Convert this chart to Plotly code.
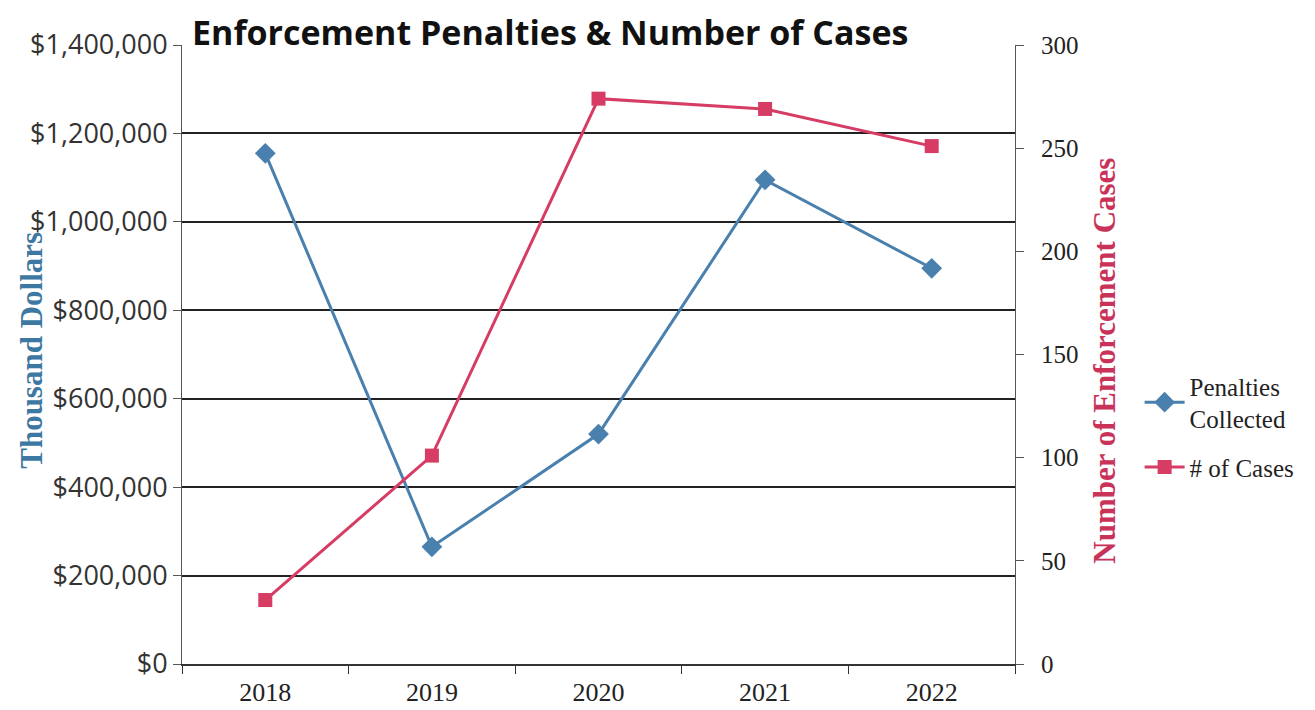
import plotly.graph_objects as go

years = ["2018", "2019", "2020", "2021", "2022"]
penalties = [1155000, 265000, 520000, 1095000, 895000]
cases = [31, 101, 274, 269, 251]

left_ticks = [0, 200000, 400000, 600000, 800000, 1000000, 1200000, 1400000]
left_labels = ["$" + format(v, ",") for v in left_ticks]
right_ticks = [0, 50, 100, 150, 200, 250, 300]

BLUE = "#4A80AE"
RED = "#D63C64"
SERIF = "Liberation Serif, Times New Roman, serif"
SANS = "Open Sans, Lato, sans-serif"

fig = go.Figure()
fig.add_trace(go.Scatter(
    x=years, y=penalties, name="Penalties<br>Collected", mode="lines+markers",
    line=dict(color=BLUE, width=3), legendgroup="pen",
    marker=dict(symbol="diamond", size=16, color=BLUE),
    yaxis="y"))
fig.add_trace(go.Scatter(
    x=years, y=cases, name="# of Cases", mode="lines+markers",
    line=dict(color=RED, width=3), legendgroup="cases",
    marker=dict(symbol="square", size=14, color=RED),
    yaxis="y2"))

fig.update_layout(
    width=1315, height=710,
    paper_bgcolor="white", plot_bgcolor="white",
    margin=dict(l=174, r=308, t=37, b=54),
    title=dict(text="<b>Enforcement Penalties & Number of Cases</b>",
               font=dict(family=SANS, size=34, color="#111111"),
               x=184/1315, xanchor="left", y=1-25/710, yanchor="middle"),
    xaxis=dict(type="category", range=[-0.5, 4.5], showgrid=False, showline=True,
               linecolor="#333333", linewidth=1.5,
               ticks="outside", tickson="boundaries", ticklen=8, tickcolor="#333333",
               ticklabelstandoff=4,
               tickfont=dict(family=SERIF, size=26, color="#222222"), mirror=False),
    yaxis=dict(range=[0, 1400000], tickvals=left_ticks, ticktext=left_labels,
               showgrid=True, gridcolor="#222222", gridwidth=1.5, zeroline=False,
               showline=True, linecolor="#555555", linewidth=1,
               ticks="outside", ticklen=8, tickcolor="#555555",
               tickfont=dict(family=SANS, size=27, color="#333333")),
    yaxis2=dict(range=[0, 300], tickvals=right_ticks, overlaying="y", side="right",
                showgrid=False, zeroline=False, showline=True, linecolor="#555555", linewidth=1,
                ticks="outside", ticklen=8, tickcolor="#555555", ticklabelstandoff=12,
                tickfont=dict(family=SERIF, size=25, color="#222222")),
    legend=dict(x=1.1496, y=0.486, xanchor="left", yanchor="top",
                font=dict(family=SERIF, size=25, color="#222222"),
                traceorder="grouped",
                bgcolor="rgba(0,0,0,0)", tracegroupgap=13, itemwidth=40),
    showlegend=True,
    annotations=[
        dict(text="<b>Thousand Dollars</b>", textangle=-90, xref="paper", yref="paper",
             x=(32-182)/833, y=0.506, xanchor="center", yanchor="middle", showarrow=False,
             font=dict(family=SERIF, size=31, color="#3D78A3")),
        dict(text="<b>Number of Enforcement Cases</b>", textangle=-90, xref="paper", yref="paper",
             x=(1105-182)/833, y=0.49, xanchor="center", yanchor="middle", showarrow=False,
             font=dict(family=SERIF, size=31, color="#C9335A")),
    ],
)

fig.write_html("out.html")
